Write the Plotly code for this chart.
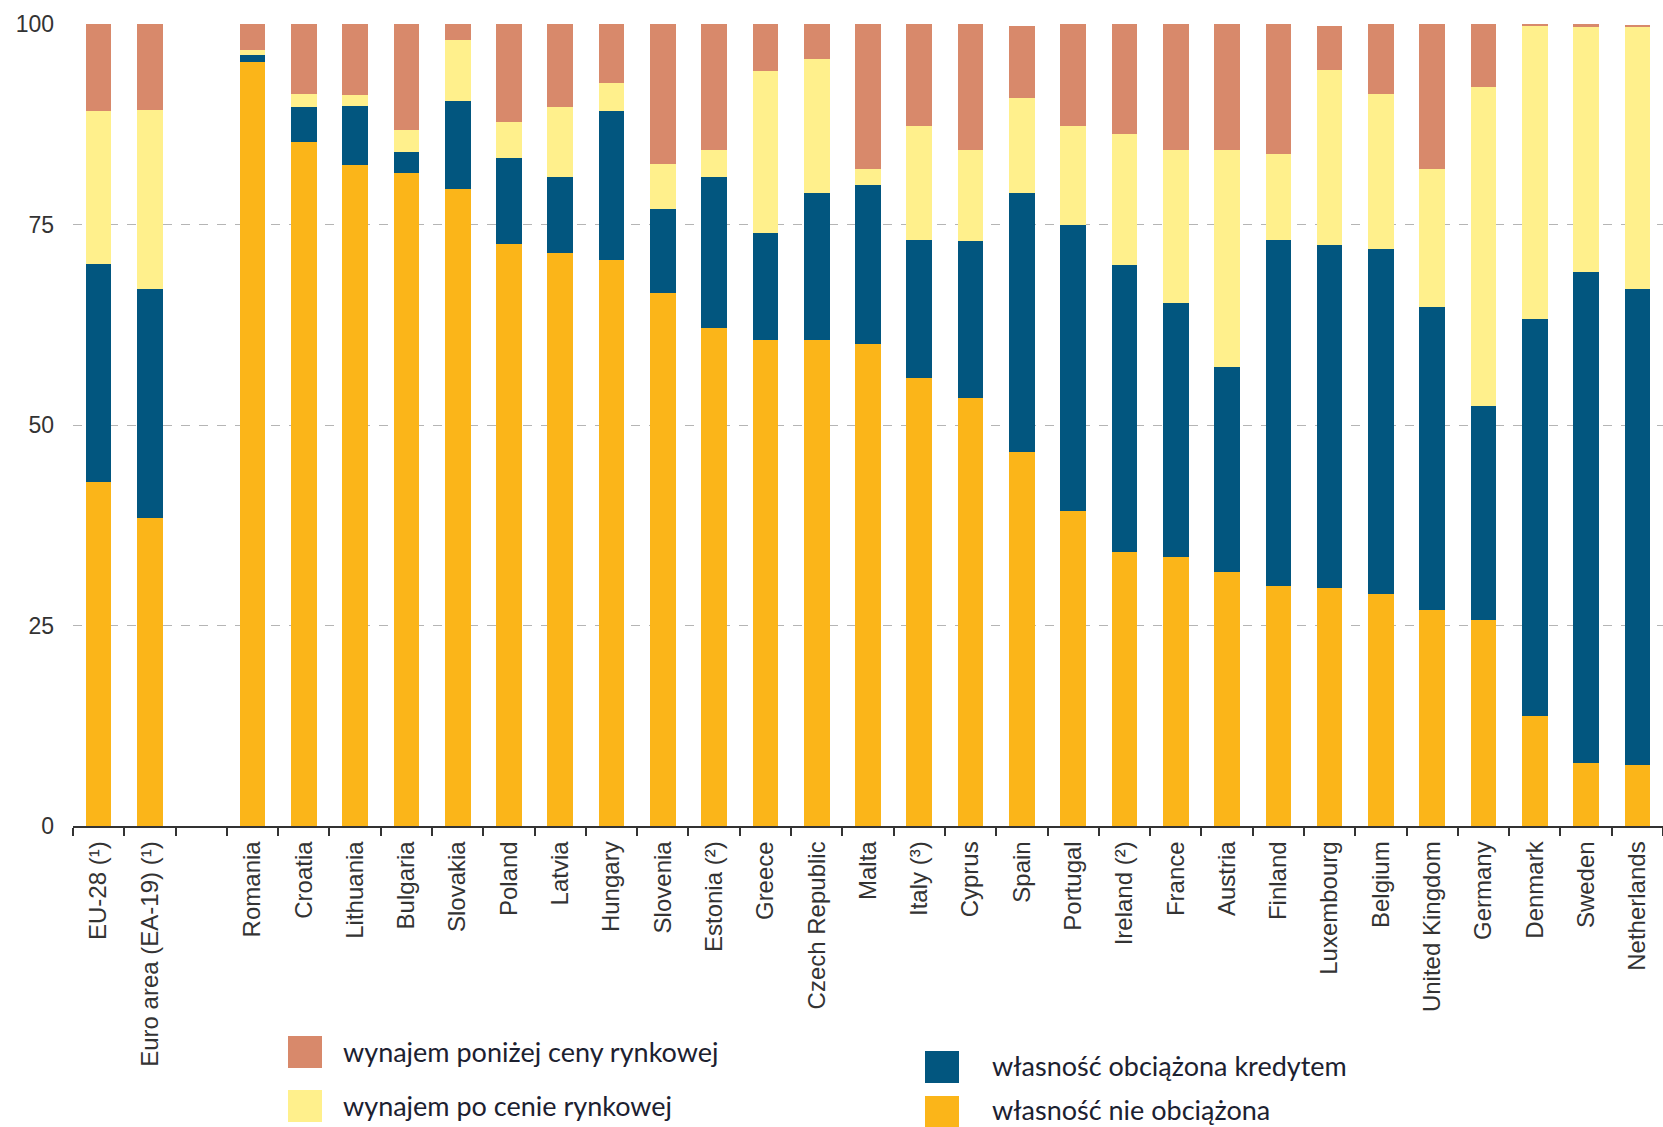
import plotly.graph_objects as go

# Housing tenure status, share of population (%)
categories = [
    "EU-28 (¹)", "Euro area (EA-19) (¹)", " ",
    "Romania", "Croatia", "Lithuania", "Bulgaria", "Slovakia", "Poland", "Latvia",
    "Hungary", "Slovenia", "Estonia (²)", "Greece", "Czech Republic", "Malta",
    "Italy (³)", "Cyprus", "Spain", "Portugal", "Ireland (²)", "France", "Austria",
    "Finland", "Luxembourg", "Belgium", "United Kingdom", "Germany", "Denmark",
    "Sweden", "Netherlands",
]

owner_no_mortgage = [
    42.9, 38.4, None,
    95.3, 85.3, 82.4, 81.4, 79.4, 72.6, 71.4,
    70.6, 66.4, 62.1, 60.6, 60.6, 60.1,
    55.9, 53.4, 46.6, 39.3, 34.2, 33.6, 31.7,
    29.9, 29.7, 28.9, 26.9, 25.7, 13.7,
    7.8, 7.6,
]
owner_with_mortgage = [
    27.2, 28.5, None,
    0.8, 4.3, 7.4, 2.7, 11.0, 10.7, 9.5,
    18.5, 10.5, 18.8, 13.3, 18.3, 19.8,
    17.2, 19.5, 32.3, 35.6, 35.7, 31.6, 25.5,
    43.2, 42.7, 43.0, 37.8, 26.7, 49.5,
    61.3, 59.3,
]
tenant_market_price = [
    19.0, 22.4, None,
    0.7, 1.7, 1.3, 2.7, 7.6, 4.5, 8.7,
    3.5, 5.7, 3.4, 20.2, 16.7, 2.0,
    14.2, 11.4, 11.9, 12.4, 16.4, 19.1, 27.1,
    10.7, 21.9, 19.4, 17.2, 39.7, 36.6,
    30.5, 32.7,
]
tenant_reduced_price = [
    10.9, 10.7, None,
    3.2, 8.7, 8.9, 13.2, 2.0, 12.2, 10.4,
    7.4, 17.4, 15.7, 5.9, 4.4, 18.1,
    12.7, 15.7, 9.0, 12.7, 13.7, 15.7, 15.7,
    16.2, 5.5, 8.7, 18.1, 7.9, 0.2,
    0.4, 0.3,
]

series_names = [
    "własność nie obciążona",
    "własność obciążona kredytem",
    "wynajem po cenie rynkowej",
    "wynajem poniżej ceny rynkowej",
]
series_values = [owner_no_mortgage, owner_with_mortgage, tenant_market_price, tenant_reduced_price]
series_colors = ["#FBB519", "#02567F", "#FFF08C", "#D8896B"]

W, H = 1663, 1127
M_L, M_R, M_T, M_B = 73, 0, 24, 301
PLOT_W = W - M_L - M_R
PLOT_H = H - M_T - M_B

fig = go.Figure()
for name, vals, col in zip(series_names, series_values, series_colors):
    fig.add_trace(go.Bar(
        x=categories, y=vals, name=name,
        marker=dict(color=col, line=dict(width=0)),
        showlegend=False,
    ))


def px_to_paper(px, py):
    return (px - M_L) / PLOT_W, (H - M_B - py) / PLOT_H


# Legend drawn as two columns of swatches with labels
legend_items = [
    # (series index, swatch left, swatch top, text left, text centre y)
    (3, 288, 1036, 341, 1051),
    (2, 288, 1090, 341, 1105),
    (1, 925, 1051, 990, 1065),
    (0, 925, 1096, 990, 1109),
]
shapes = []
annotations = []
for idx, sx, sy, tx, ty in legend_items:
    x0, y1 = px_to_paper(sx, sy)
    x1, y0 = px_to_paper(sx + 34, sy + 32)
    shapes.append(dict(type="rect", xref="paper", yref="paper",
                       x0=x0, x1=x1, y0=y0, y1=y1,
                       fillcolor=series_colors[idx], line=dict(width=0)))
    ax, ay = px_to_paper(tx, ty)
    annotations.append(dict(xref="paper", yref="paper", x=ax, y=ay,
                            text=series_names[idx], showarrow=False,
                            xanchor="left", yanchor="middle",
                            font=dict(family="Lato", size=27, color="#1c2130")))

fig.update_layout(
    width=W, height=H,
    margin=dict(l=M_L, r=M_R, t=M_T, b=M_B, pad=0),
    barmode="stack",
    bargap=0.5,
    paper_bgcolor="white",
    plot_bgcolor="white",
    shapes=shapes,
    annotations=annotations,
    font=dict(family="Liberation Sans", color="#333333"),
    xaxis=dict(
        type="category",
        categoryorder="array",
        categoryarray=categories,
        tickangle=-90,
        tickson="boundaries",
        ticks="outside",
        ticklen=8,
        tickwidth=1.5,
        tickcolor="#333333",
        showline=True,
        linecolor="#333333",
        linewidth=1.5,
        showgrid=False,
        tickfont=dict(family="Liberation Sans", size=24, color="#333333"),
        ticklabelstandoff=4,
    ),
    yaxis=dict(
        range=[0, 100],
        tickvals=[0, 25, 50, 75, 100],
        showgrid=True,
        gridcolor="#B5B5B5",
        gridwidth=1,
        griddash="dash",
        zeroline=False,
        showline=False,
        ticks="",
        tickfont=dict(family="Liberation Sans", size=23, color="#333333"),
        ticklabelstandoff=18,
    ),
)

fig.write_html("out.html")
